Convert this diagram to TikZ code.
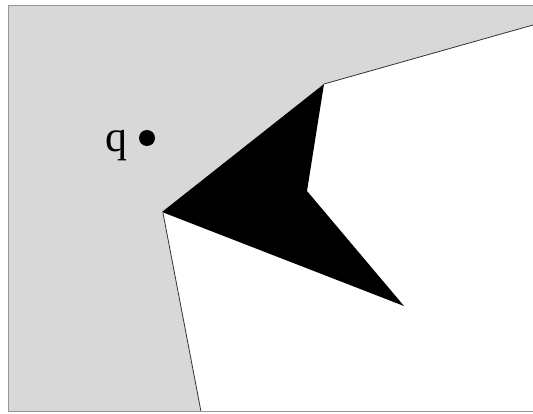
\documentclass[tikz,border=0pt]{standalone}
\usepackage{fontspec}
\setmainfont{Liberation Serif}
\usepackage{tikz}
\definecolor{shade}{RGB}{216,216,216}
\definecolor{framec}{RGB}{150,150,150}
\begin{document}
\begin{tikzpicture}[x=1pt,y=-1pt,
  region/.style={fill=shade,draw=none},
  edge/.style={draw=black!80,line width=0.8pt},
  framel/.style={draw=framec,line width=1.4pt}]
\useasboundingbox (0,0) rectangle (533,414);
% gray free region
\path[region] (8.5,5.5) -- (533,5.5) -- (533,25) -- (324,84) -- (163,213) -- (201,411.5) -- (8.5,411.5) -- cycle;
% boundary edges
\draw[edge] (533,25) -- (324,84);
\draw[edge] (163,213) -- (201,411.5);
% frame
\draw[framel] (533,5.5) -- (8.5,5.5) -- (8.5,411.5) -- (533,411.5);
% black obstacle
\fill[black] (324,84) -- (162,212) -- (404,306) -- (307,191) -- cycle;
% point q
\fill[black] (147,138) coordinate (qdot) circle (8);
\node[font=\fontsize{44}{44}\selectfont, anchor=base, inner sep=0pt] (q) at (116,152) {q};
\end{tikzpicture}
\end{document}
